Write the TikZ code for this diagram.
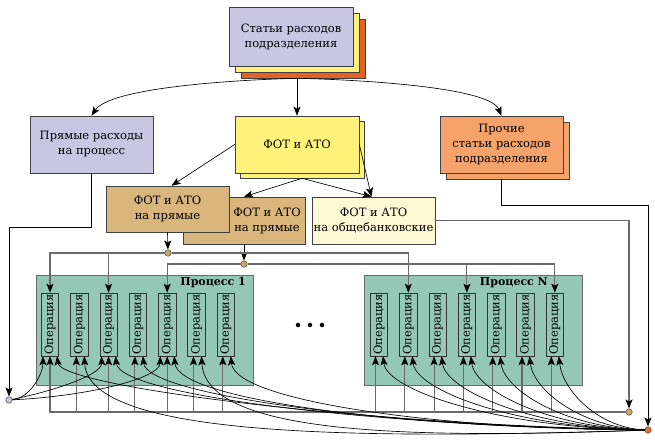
\documentclass[tikz,border=0pt]{standalone}
\usepackage{fontspec}
\setmainfont{DejaVu Serif}
\usetikzlibrary{arrows.meta,calc}
\definecolor{cLav}{HTML}{C9C6E4}
\definecolor{cYlw}{HTML}{FFF27A}
\definecolor{cOrg}{HTML}{E3612B}
\definecolor{cPeach}{HTML}{F5A36B}
\definecolor{cTan}{HTML}{D9B67B}
\definecolor{cCream}{HTML}{FFF8D4}
\definecolor{cTeal}{HTML}{95C7B7}
\definecolor{cGrey}{HTML}{6A6A6A}
\definecolor{cDtan}{HTML}{C8A66C}
\definecolor{cLdot}{HTML}{C3C2D8}
\definecolor{cOdot}{HTML}{E56F36}
\begin{document}
\begin{tikzpicture}[x=1pt,y=-1pt,
  box/.style={draw=black!75, line width=0.6pt, align=center, inner sep=0pt, font=\fontsize{11.5}{15}\selectfont},
  big/.style={box, minimum width=123pt, minimum height=57pt},
  small/.style={box, minimum width=123pt, minimum height=47pt},
  txt/.style={align=center, inner sep=0pt, font=\fontsize{11.5}{15}\selectfont},
  opbox/.style={draw=black!80, line width=0.6pt, fill=cTeal, minimum width=17.5pt, minimum height=63pt, inner sep=0pt, font=\fontsize{11.5}{12}\selectfont},
  proc/.style={draw=cGrey, line width=1pt, fill=cTeal, minimum width=217pt, minimum height=109pt},
  plabel/.style={anchor=east, inner sep=0pt, font=\bfseries\fontsize{11}{12}\selectfont},
  dot/.style={circle, draw=black!70, line width=0.5pt, minimum size=6.5pt, inner sep=0pt},
  edot/.style={circle, fill=black, minimum size=4.5pt, inner sep=0pt},
  tip/.style={-{Stealth[length=9pt,width=7pt,inset=2pt,color=black]}},
  arr/.style={tip, draw=black, line width=0.65pt},
  garr/.style={tip, draw=cGrey, line width=1.1pt},
  crv/.style={tip, draw=black, line width=0.65pt},
]
\useasboundingbox (0,0) rectangle (655,443);

% ---- top block
\node[big, fill=cOrg, minimum width=124pt, minimum height=59pt] (topC) at (303,48.5) {};
\node[big, fill=cYlw, minimum width=124pt, minimum height=59pt] (topB) at (297,42.5) {};
\node[big, fill=cLav, minimum width=124pt, minimum height=59pt] (top) at (291,36.5) {Статьи расходов\\подразделения};

% ---- second row
\node[big, fill=cLav] (pr) at (91.5,144.5) {Прямые расходы\\на процесс};
\node[big, fill=cYlw, minimum width=124pt] (fotS) at (302,149.5) {};
\node[big, fill=cYlw, minimum width=124pt] (fot) at (297,144.5) {ФОТ и АТО};
\node[big, fill=cPeach] (proS) at (507.5,150.5) {};
\node[big, fill=cPeach] (pro) at (501.5,144.5) {Прочие\\статьи расходов\\подразделения};

% ---- third row
\node[small, fill=cTan, minimum width=122pt] (tanB) at (244,220.5) {};
\node[txt] (tanBt) at (267,221) {ФОТ и АТО\\на прямые};
\node[small, fill=cTan, minimum height=46pt] (tanA) at (167.5,209) {ФОТ и АТО\\на прямые};
\node[small, fill=cCream] (obs) at (373.5,220.5) {ФОТ и АТО\\на общебанковские};

% ---- processes
\node[proc] (P1) at (144.5,330.5) {};
\node[proc, minimum width=218pt] (PN) at (473,330.5) {};
\node[plabel] (P1l) at (246,283) {Процесс 1};
\node[plabel] (PNl) at (548,283) {Процесс N};
\foreach \i in {1,...,7} {
  \node[opbox] (p1o\i) at ({50+29.3*(\i-1)},324.5) {\rotatebox{90}{Операция}};
  \node[opbox] (pNo\i) at ({379+29.3*(\i-1)},324.5) {\rotatebox{90}{Операция}};
}
\node[edot] (e1) at (298,325) {};
\node[edot] (e2) at (310,325) {};
\node[edot] (e3) at (322,325) {};

% ---- dots
\node[dot, fill=cDtan] (d1) at (168,253) {};
\node[dot, fill=cDtan] (d2) at (244,264) {};
\node[dot, fill=cDtan] (d3) at (629,412) {};
\node[dot, fill=cOdot] (od) at (648,430) {};
\node[dot, fill=cLdot] (ld) at (9,400) {};

% ---- top arrows
\coordinate (tsrc) at (topC.south -| fot.north);
\draw[arr] (tsrc) -- (fot.north);
\draw[arr] (tsrc) .. controls (230,80) and (110,88) .. (pr.north);
\draw[arr] (tsrc) .. controls (370,80) and (490,88) .. (pro.north);

\draw[arr] (fot.west) -- ($(tanA.north)+(4,0)$);
\draw[arr] (fotS.south) -- (tanB.north);
\draw[arr] (fotS.south) -- ($(obs.north)+(-2,0)$);
\draw[arr] (fot.east) -- ($(obs.north)+(-2,0)$);

\draw[arr] (tanA.south) -- (d1);
\draw[arr] (tanB.south) -- (d2);

% ---- side feeds
\draw[arr] (pr.south) -- ++(0,54) -| (ld);
\draw[garr] (obs.east) -| (d3);
\draw[arr] (proS.south -| pro.south) -- ++(0,26) -| (od);

% ---- distribution from tan dots
\draw[garr] (d1) -| (p1o1.north);
\draw[garr] (d1) -| (p1o3.north);
\draw[garr] (d1) -| (pNo2.north);
\draw[garr] (d2) -| (p1o5.north);
\draw[garr] (d2) -| (pNo4.north);
\draw[garr] (d2) -| (pNo7.north);

% ---- bottom bus
\foreach \n/\dx in {p1o1/0,p1o2/-3,p1o3/0,p1o4/-3,p1o5/0,p1o6/-3,p1o7/-3,
                    pNo1/-3.5,pNo2/-3.5,pNo3/-3.5,pNo4/-3.5,pNo5/-3.5,pNo6/-3.5,pNo7/-3.5}
  \draw[garr] (d3) -| ($(\n.south)+(\dx,0)$);

% ---- lavender curves
\draw[crv] (ld) .. controls (30,398) and (43,374) .. ($(p1o1.south)+(-7,0)$);
\draw[crv] (ld) .. controls (45,393) and (102,376) .. ($(p1o3.south)+(-7,0)$);
\draw[crv] (ld) .. controls (90,396) and (160,378) .. ($(p1o5.south)+(-7,0)$);

% ---- orange curves
\foreach \n/\dx/\L/\h/\dy in {
  p1o1/7/295/30/-6, p1o2/5/300/80/10, p1o3/7/266/40/-4, p1o4/5/253/40/-3,
  p1o5/7/237/45/-2, p1o6/5/260/75/10, p1o7/5/209/45/-1,
  pNo1/4/146/35/-2, pNo2/4/130/35/-2, pNo3/4/113/35/-2, pNo4/4/97/35/-2,
  pNo5/4/81/35/-2, pNo6/4/65/35/-2, pNo7/4/49/35/-2}
  \draw[crv] (od) .. controls ($(od)+(-\L,\dy)$) and ($(\n.south)+(\dx+4,\h)$) .. ($(\n.south)+(\dx,0)$);
\end{tikzpicture}
\end{document}
